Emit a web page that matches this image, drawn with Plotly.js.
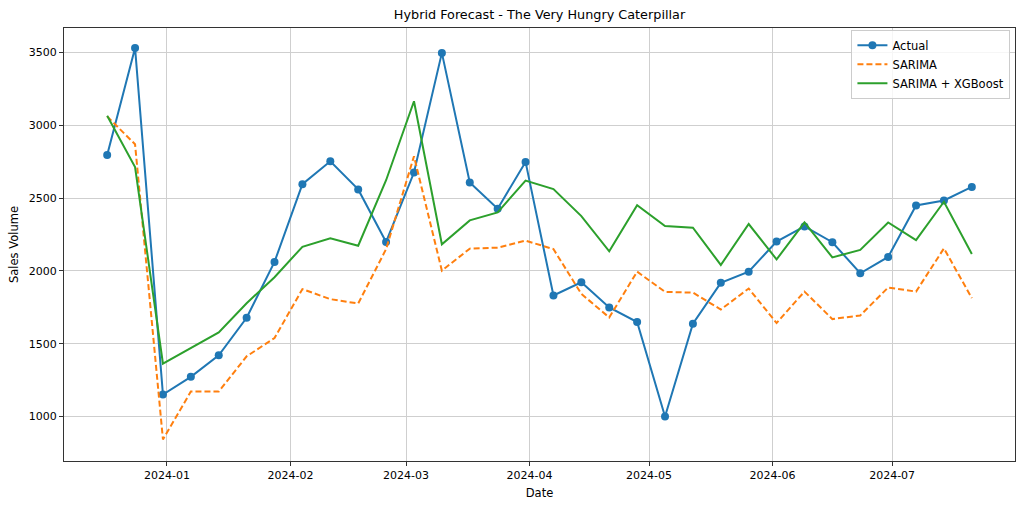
<!DOCTYPE html>
<html>
<head>
<meta charset="utf-8">
<script src="https://cdn.plot.ly/plotly-3.0.1.min.js"></script>
<style>
html,body{margin:0;padding:0;background:#fff;}
#chart{width:1023px;height:507px;}
</style>
</head>
<body>
<div id="chart"></div>
<script>
const dates = ["2023-12-17","2023-12-24","2023-12-31","2024-01-07","2024-01-14","2024-01-21","2024-01-28",
  "2024-02-04","2024-02-11","2024-02-18","2024-02-25","2024-03-03","2024-03-10","2024-03-17","2024-03-24","2024-03-31",
  "2024-04-07","2024-04-14","2024-04-21","2024-04-28","2024-05-05","2024-05-12","2024-05-19","2024-05-26",
  "2024-06-02","2024-06-09","2024-06-16","2024-06-23","2024-06-30","2024-07-07","2024-07-14","2024-07-21"];
const actual = [2796,3532,1151,1272,1420,1678,2062,2596,2753,2560,2199,2676,3498,2608,2427,2749,
  1831,1922,1749,1649,1000,1637,1918,1995,2202,2306,2197,1984,2096,2450,2484,2577];
const sarima = [3062,2870,842,1171,1171,1413,1539,1875,1806,1776,2150,2788,2002,2153,2160,2208,
  2150,1842,1680,1995,1856,1851,1735,1879,1642,1858,1669,1694,1886,1858,2155,1813];
const hybrid = [3066,2714,1363,1470,1577,1778,1957,2166,2224,2173,2623,3166,2183,2347,2402,2621,
  2562,2377,2135,2452,2308,2297,2041,2322,2079,2333,2093,2144,2333,2212,2475,2116];
const seriesNames = ["Actual","SARIMA","SARIMA + XGBoost"];
const tickLabelsY = [1000,1500,2000,2500,3000,3500];

const font = "DejaVu Sans, sans-serif";
const traces = [
  {x: dates, y: actual, name: seriesNames[0], type: "scatter", mode: "lines+markers",
   line: {color: "#1f77b4", width: 2}, marker: {color: "#1f77b4", size: 8}},
  {x: dates, y: sarima, name: seriesNames[1], type: "scatter", mode: "lines",
   line: {color: "#ff7f0e", width: 2, dash: "6px,3px"}},
  {x: dates, y: hybrid, name: seriesNames[2], type: "scatter", mode: "lines",
   line: {color: "#2ca02c", width: 2}}
];
const axisCommon = {
  showgrid: true, gridcolor: "#cfcfcf", gridwidth: 1,
  showline: true, linecolor: "#333", linewidth: 1, mirror: true,
  ticks: "outside", ticklen: 4, tickcolor: "#333",
  zeroline: false, tickfont: {family: font, size: 11, color: "#000"}
};
const layout = {
  width: 1023, height: 507,
  margin: {l: 64, r: 8, t: 28, b: 46},
  paper_bgcolor: "#fff", plot_bgcolor: "#fff",
  font: {family: font, size: 11, color: "#000"},
  title: {text: "Hybrid Forecast - The Very Hungry Caterpillar", x: 0.5, xref: "paper",
          y: 1 - 15/507, yref: "container", yanchor: "middle", font: {family: font, size: 12.8, color: "#000"}},
  xaxis: Object.assign({}, axisCommon, {
    type: "date", range: ["2023-12-06 04:00", "2024-07-31 20:00"],
    dtick: "M1", tick0: "2024-01-01", tickformat: "%Y-%m",
    title: {text: "Date", font: {family: font, size: 11.5}, standoff: 7}
  }),
  yaxis: Object.assign({}, axisCommon, {
    range: [694, 3669], tickvals: tickLabelsY, ticktext: tickLabelsY.map(String),
    title: {text: "Sales Volume", font: {family: font, size: 11.5}, standoff: 7}
  }),
  legend: {x: 0.828, y: 0.996, xanchor: "left", yanchor: "top",
    bgcolor: "rgba(255,255,255,0.8)", bordercolor: "#cccccc", borderwidth: 1,
    font: {family: font, size: 11.5}, tracegroupgap: 0},
  showlegend: true
};
Plotly.newPlot("chart", traces, layout, {displayModeBar: false, staticPlot: true});
</script>
</body>
</html>
